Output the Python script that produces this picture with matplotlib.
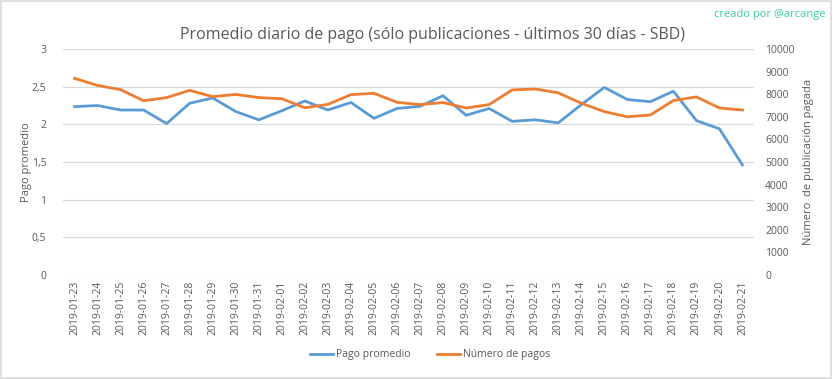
import matplotlib
matplotlib.use("Agg")
import matplotlib.pyplot as plt
from matplotlib.ticker import FuncFormatter, MultipleLocator
from matplotlib.patches import Rectangle

plt.rcParams['font.family'] = ['Open Sans', 'DejaVu Sans']

dates = ["2019-01-23", "2019-01-24", "2019-01-25", "2019-01-26", "2019-01-27",
         "2019-01-28", "2019-01-29", "2019-01-30", "2019-01-31", "2019-02-01",
         "2019-02-02", "2019-02-03", "2019-02-04", "2019-02-05", "2019-02-06",
         "2019-02-07", "2019-02-08", "2019-02-09", "2019-02-10", "2019-02-11",
         "2019-02-12", "2019-02-13", "2019-02-14", "2019-02-15", "2019-02-16",
         "2019-02-17", "2019-02-18", "2019-02-19", "2019-02-20", "2019-02-21"]

pago_promedio = [2.235, 2.25, 2.19, 2.19, 2.01, 2.28, 2.35, 2.17, 2.06, 2.18,
                 2.31, 2.19, 2.29, 2.08, 2.21, 2.24, 2.38, 2.12, 2.21, 2.04,
                 2.06, 2.02, 2.26, 2.49, 2.33, 2.30, 2.44, 2.05, 1.94, 1.46]

numero_pagos = [8700, 8390, 8200, 7710, 7850, 8170, 7890, 7990, 7850, 7800,
                7400, 7550, 7980, 8040, 7640, 7540, 7630, 7390, 7540, 8190,
                8230, 8060, 7600, 7230, 7000, 7080, 7720, 7880, 7390, 7300]

title = "Promedio diario de pago (sólo publicaciones - últimos 30 días - SBD)"
credit = "creado por @arcange"

blue = "#5B9BD5"
orange = "#ED7D31"
grid_c = "#D9D9D9"
text_c = "#595959"

fig = plt.figure(figsize=(8.33, 3.79), dpi=100)
ax = fig.add_axes([63/833, 1 - 275/379, (754-63)/833, (275-49)/379])
ax2 = ax.twinx()

x = list(range(len(dates)))
ax.plot(x, pago_promedio, color=blue, lw=2.0, label="Pago promedio", zorder=3)
ax2.plot(x, numero_pagos, color=orange, lw=2.0, label="Número de pagos", zorder=3)

ax.set_xlim(-0.5, len(dates) - 0.5)
ax.set_ylim(0, 3)
ax2.set_ylim(0, 10000)
ax.yaxis.set_major_locator(MultipleLocator(0.5))
ax2.yaxis.set_major_locator(MultipleLocator(1000))
ax.yaxis.set_major_formatter(FuncFormatter(lambda v, p: ("%g" % v).replace(".", ",")))
ax2.yaxis.set_major_formatter(FuncFormatter(lambda v, p: "%d" % v))

ax.set_xticks(x)
ax.set_xticklabels(dates, rotation=90, fontsize=7.5, color=text_c)
ax.grid(axis='y', color=grid_c, lw=0.9)
ax.set_axisbelow(True)
for a in (ax, ax2):
    for s in a.spines.values():
        s.set_visible(False)
    a.tick_params(length=0, labelsize=7.5, colors=text_c)
ax.tick_params(axis='y', pad=12)
ax2.tick_params(axis='y', pad=8)
ax.tick_params(axis='x', pad=4)

ax.set_ylabel("Pago promedio", fontsize=8, color=text_c)
ax.yaxis.set_label_coords((32 - 63) / 691, 0.5)
ax2.set_ylabel("Número  de publicación pagada", fontsize=8, color=text_c, labelpad=6)

fig.text(432/833, 1 - 35/379, title, ha='center', va='center', fontsize=11.5, color=text_c)
fig.text(825/833, 1 - 15/379, credit, ha='right', va='center', fontsize=8, color="#3CCB9E")

h1, l1 = ax.get_legend_handles_labels()
h2, l2 = ax2.get_legend_handles_labels()
fig.legend(h1 + h2, l1 + l2, loc='center', bbox_to_anchor=(430/833, 1 - 355/379),
           ncol=2, frameon=False, fontsize=7.5, handlelength=2.2, columnspacing=2.5,
           labelcolor=text_c, handletextpad=0.3)

fig.patches.append(Rectangle((0.001, 0.003), 0.997, 0.994, transform=fig.transFigure,
                             fill=False, edgecolor="#D9D9D9", lw=1.2))

fig.savefig("out.png", dpi=100)
